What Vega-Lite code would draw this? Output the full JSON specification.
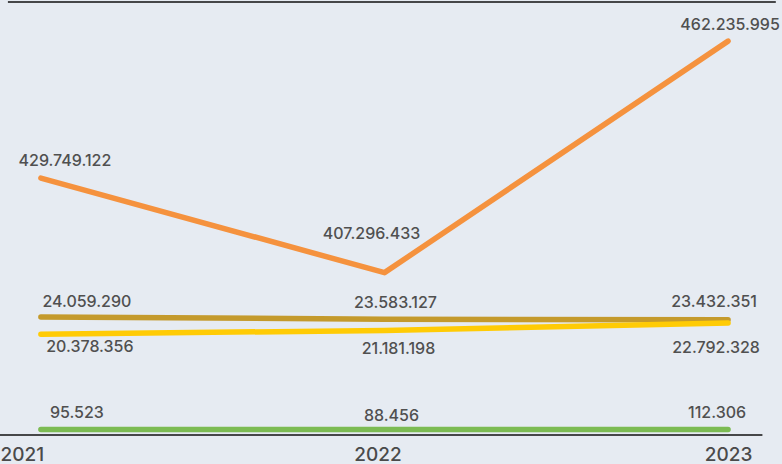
{
  "$schema": "https://vega.github.io/schema/vega-lite/v6.json",
  "width": 782,
  "height": 435,
  "autosize": {"type": "none"},
  "padding": {"left": 0, "top": 0, "right": 0, "bottom": 29},
  "background": "#E6EBF2",
  "config": {
    "view": {"stroke": null},
    "locale": {"number": {"decimal": ",", "thousands": ".", "grouping": [3], "currency": ["", " €"]}}
  },
  "datasets": {
    "series": [
      {"series": "A", "year": 2021, "value": 429749122},
      {"series": "A", "year": 2022, "value": 407296433},
      {"series": "A", "year": 2023, "value": 462235995},
      {"series": "B", "year": 2021, "value": 24059290},
      {"series": "B", "year": 2022, "value": 23583127},
      {"series": "B", "year": 2023, "value": 23432351},
      {"series": "C", "year": 2021, "value": 20378356},
      {"series": "C", "year": 2022, "value": 21181198},
      {"series": "C", "year": 2023, "value": 22792328},
      {"series": "D", "year": 2021, "value": 95523},
      {"series": "D", "year": 2022, "value": 88456},
      {"series": "D", "year": 2023, "value": 112306}
    ],
    "frame": [
      {"edge": "top", "x0": 2020.904, "x1": 2023.139, "level": 471500000},
      {"edge": "bottom", "x0": 2020.881, "x1": 2023.10, "level": -1064000}
    ]
  },
  "layer": [
    {
      "data": {"name": "frame"},
      "mark": {"type": "rule", "color": "#111111", "strokeWidth": 1.5},
      "encoding": {
        "x": {"field": "x0", "type": "quantitative", "scale": {"domain": [2020.881, 2023.157], "nice": false, "zero": false}, "axis": {"values": [2021, 2022, 2023], "format": "d", "domain": false, "ticks": false, "grid": false, "title": null, "labelFont": "Inter", "labelFontSize": 19, "labelFontWeight": 500, "labelColor": "#4a4a4a", "labelPadding": 10, "labelAlign": "center", "labelOverlap": false, "labelBound": false, "labelFlush": false, "labelOffset": {"condition": [{"test": "datum.value == 2021", "value": -19}, {"test": "datum.value == 2022", "value": -7}], "value": 0}}},
        "x2": {"field": "x1"},
        "y": {"field": "level", "type": "quantitative", "scale": {"domain": [0, 25000000, 400000000, 472000000], "range": [430, 312.5, 303.4, 0], "nice": false, "zero": false, "clamp": false}, "axis": null}
      }
    },
    {
      "data": {"name": "series"},
      "mark": {"type": "line", "strokeWidth": 5.5, "strokeCap": "round", "strokeJoin": "round"},
      "encoding": {
        "x": {"field": "year", "type": "quantitative"},
        "y": {"field": "value", "type": "quantitative"},
        "color": {"field": "series", "type": "nominal", "scale": {"domain": ["A", "B", "C", "D"], "range": ["#F5923E", "#C49A2C", "#FFCB05", "#7CBB53"]}, "legend": null},
        "order": {"field": "year"}
      }
    },
    {
      "data": {"name": "series"},
      "mark": {
        "type": "text",
        "font": "Inter",
        "fontSize": 16,
        "fontWeight": 500,
        "color": "#505050",
        "align": "center",
        "baseline": "middle",
        "dx": {"expr": "{'A2021': 24, 'A2022': -13, 'A2023': 2, 'B2021': 46, 'B2022': 11, 'B2023': -14, 'C2021': 49, 'C2022': 14, 'C2023': -12, 'D2021': 36, 'D2022': 7, 'D2023': -11}[datum.series + datum.year]"},
        "dy": {"expr": "{'A2021': -17, 'A2022': -39, 'A2023': -16, 'B2021': -15, 'B2022': -16, 'B2023': -18, 'C2021': 13, 'C2022': 19, 'C2023': 25, 'D2021': -17, 'D2022': -14, 'D2023': -16}[datum.series + datum.year]"}
      },
      "encoding": {
        "x": {"field": "year", "type": "quantitative"},
        "y": {"field": "value", "type": "quantitative"},
        "text": {"field": "value", "type": "quantitative", "format": ",d"}
      }
    }
  ]
}
